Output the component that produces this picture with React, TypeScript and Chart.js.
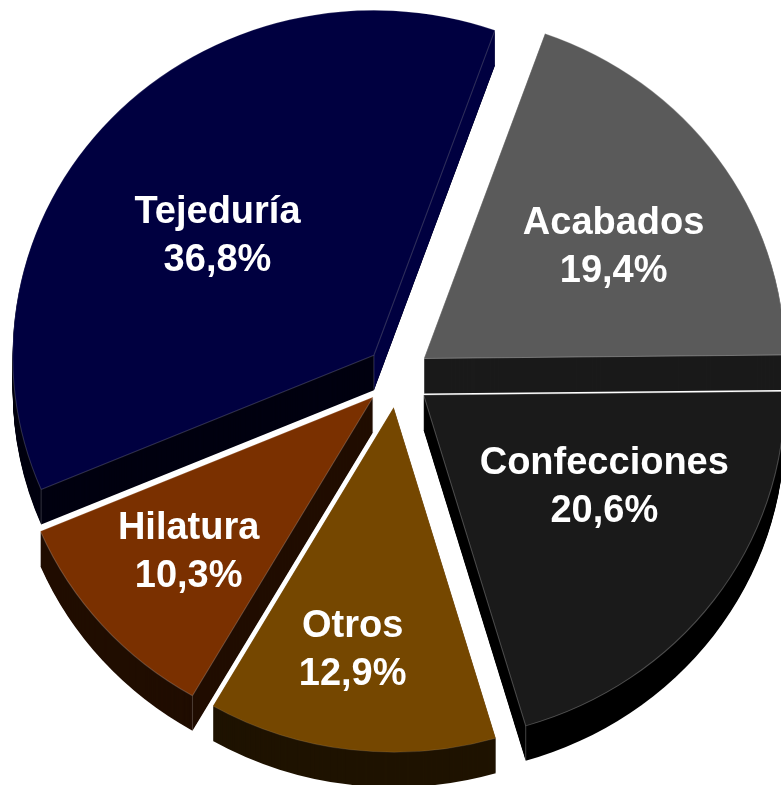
import React, { useEffect, useRef } from "react";
import { Chart, registerables } from "chart.js";

Chart.register(...registerables);

const categories = ["Tejeduría", "Acabados", "Confecciones", "Otros", "Hilatura"];
const shares = [36.8, 19.4, 20.6, 12.9, 10.3];
const shareLabels = ["36,8%", "19,4%", "20,6%", "12,9%", "10,3%"];
const topColors = ["#000040", "#5a5a5a", "#1a1a1a", "#754700", "#7a3000"];
const wallColors = ["#000010", "#1a1a1a", "#000000", "#1f1300", "#200d00"];
const radialWallColors = ["#000040", null, null, null, null];
const edgeColors = [
  "rgba(255,255,255,0.18)",
  "rgba(255,255,255,0.3)",
  "rgba(255,255,255,0.25)",
  "rgba(255,255,255,0.1)",
  "rgba(255,255,255,0.2)",
];
const labelShifts = [
  [-156.4, -119],
  [189.7, -110.5],
  [180.7, 92.5],
  [-41, 243.5],
  [-184.5, 155.5],
];

const ROTATION = -112.9;
const RADIUS = 345;
const STRETCH_X = 1.047;
const EXPLODE = 31;
const DEPTH = 35;
const FONT = 'bold 38px "Liberation Sans", Arial, sans-serif';
const LINE = 48;

const center = (chart: any) => ({
  x: (chart.chartArea.left + chart.chartArea.right) / 2,
  y: (chart.chartArea.top + chart.chartArea.bottom) / 2,
});

const pie3d = {
  id: "pie3d",
  afterDatasetsUpdate(chart: any) {
    for (const arc of chart.getDatasetMeta(0).data) {
      const mid = (arc.startAngle + arc.endAngle) / 2;
      arc.x += Math.cos(mid) * EXPLODE;
      arc.y += Math.sin(mid) * EXPLODE;
    }
  },
  beforeDatasetsDraw(chart: any) {
    const ctx = chart.ctx;
    const c = center(chart);
    ctx.save();
    ctx.translate(c.x, c.y);
    ctx.scale(STRETCH_X, 1);
    ctx.translate(-c.x, -c.y);
    chart.getDatasetMeta(0).data.forEach((arc: any, i: number) => {
      const { x, y, startAngle: s, endAngle: e, outerRadius: r } = arc;
      ctx.fillStyle = wallColors[i];
      for (let d = DEPTH; d >= 1; d--) {
        ctx.beginPath();
        ctx.moveTo(x, y + d);
        ctx.arc(x, y + d, r, s, e);
        ctx.closePath();
        ctx.fill();
      }
      const ex = x + Math.cos(e) * r;
      const ey = y + Math.sin(e) * r;
      const sx = x + Math.cos(s) * r;
      const sy = y + Math.sin(s) * r;
      const side = radialWallColors[i];
      if (side) {
        ctx.fillStyle = side;
        ctx.beginPath();
        ctx.moveTo(x, y);
        ctx.lineTo(ex, ey);
        ctx.lineTo(ex, ey + DEPTH);
        ctx.lineTo(x, y + DEPTH);
        ctx.closePath();
        ctx.fill();
      }
      ctx.strokeStyle = edgeColors[i];
      ctx.lineWidth = 1;
      ctx.beginPath();
      ctx.moveTo(x, y);
      ctx.lineTo(x, y + DEPTH);
      ctx.moveTo(ex, ey);
      ctx.lineTo(ex, ey + DEPTH);
      ctx.moveTo(sx, sy);
      ctx.lineTo(sx, sy + DEPTH);
      ctx.stroke();
    });
  },
  afterDatasetsDraw(chart: any) {
    const ctx = chart.ctx;
    ctx.restore();
    const c = center(chart);
    ctx.save();
    ctx.font = FONT;
    ctx.fillStyle = "#ffffff";
    ctx.textAlign = "center";
    ctx.textBaseline = "middle";
    chart.getDatasetMeta(0).data.forEach((arc: any, i: number) => {
      const ax = c.x + (arc.x - c.x) * STRETCH_X;
      const tx = ax + labelShifts[i][0];
      const ty = arc.y + labelShifts[i][1];
      ctx.fillText(categories[i], tx, ty - LINE / 2);
      ctx.fillText(shareLabels[i], tx, ty + LINE / 2);
    });
    ctx.restore();
  },
};

export default function App() {
  const ref = useRef<HTMLCanvasElement>(null);
  useEffect(() => {
    document.body.style.background = "#ffffff";
    const chart = new Chart(ref.current as HTMLCanvasElement, {
      type: "pie",
      plugins: [pie3d],
      data: {
        labels: categories,
        datasets: [
          {
            data: shares,
            backgroundColor: topColors,
            borderColor: edgeColors,
            borderWidth: 1,
          },
        ],
      },
      options: {
        responsive: false,
        animation: false,
        rotation: ROTATION,
        radius: RADIUS,
        layout: { padding: { left: 14, bottom: 32 } },
        plugins: {
          legend: { display: false },
          tooltip: { enabled: false },
          title: { display: false },
        },
      },
    } as any);
    return () => chart.destroy();
  }, []);
  return (
    <canvas
      ref={ref}
      width={781}
      height={785}
      style={{ position: "absolute", left: 0, top: 0, width: 781, height: 785 }}
    />
  );
}
